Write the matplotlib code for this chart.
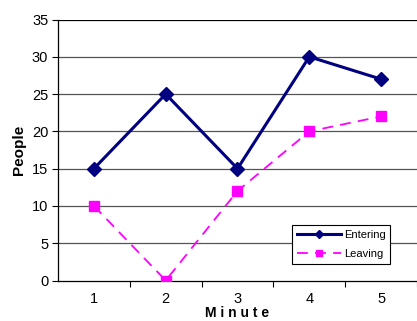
import matplotlib.pyplot as plt

plt.rcParams['font.family'] = ['Liberation Sans', 'DejaVu Sans']

minutes = [1, 2, 3, 4, 5]
entering = [15, 25, 15, 30, 27]
leaving = [10, 0, 12, 20, 22]
y_ticks = [0, 5, 10, 15, 20, 25, 30, 35]

fig = plt.figure(figsize=(4.17, 3.21), dpi=100)
ax = fig.add_axes([58 / 417, 1 - 280.5 / 321, 1 - 58 / 417, 261 / 321])

# horizontal gridlines at every tick
for y in y_ticks[1:]:
    ax.axhline(y, color='#000000' if y == 35 else '#555555', linewidth=0.9, zorder=1)

ax.plot(minutes, entering, color='#000080', linewidth=2.2, marker='D',
        markersize=7, label='Entering', zorder=3)
ax.plot(minutes, leaving, color='#FF00FF', linewidth=1.3, linestyle=(0, (6, 4)),
        marker='s', markersize=7, label='Leaving', zorder=3)

ax.set_xlim(0.5, 5.45)
ax.set_ylim(0, 35)
ax.set_yticks(y_ticks)
ax.set_xticks(minutes)
ax.set_xticks([1.5, 2.5, 3.5, 4.5, 5.5], minor=True)
ax.tick_params(axis='x', which='major', length=0, pad=8, labelsize=10.5)
ax.tick_params(axis='x', which='minor', length=4, width=0.8, direction='out')
ax.tick_params(axis='y', length=4, width=0.8, labelsize=10.5, pad=3)

for side in ['top', 'right']:
    ax.spines[side].set_visible(False)
ax.spines['left'].set_linewidth(0.9)
ax.spines['bottom'].set_linewidth(0.9)

ax.set_xlabel('M i n u t e', fontsize=10, fontweight='bold', labelpad=0)
ax.set_ylabel('People', fontsize=11, fontweight='bold', labelpad=4)

leg = ax.legend(loc='lower left', bbox_to_anchor=((292 - 58) / 359, (280.5 - 264) / 261),
                fontsize=8, frameon=True, fancybox=False, edgecolor='black',
                framealpha=1, borderpad=0.45, handlelength=4.0, handletextpad=0.2,
                labelspacing=0.85, markerscale=0.6, borderaxespad=0)
leg.get_frame().set_linewidth(0.8)

fig.savefig('out.png', dpi=100)
